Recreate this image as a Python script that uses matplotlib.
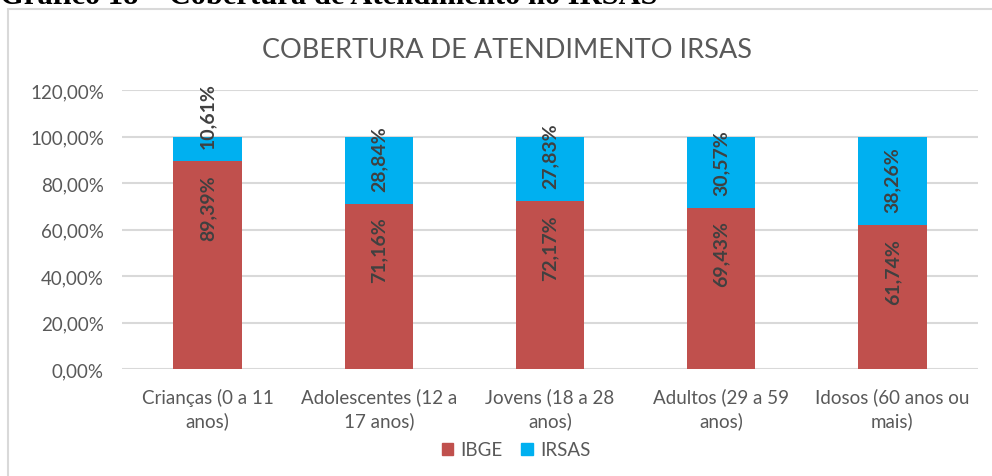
import matplotlib
matplotlib.use("Agg")
import matplotlib.pyplot as plt
from matplotlib.patches import Rectangle, Patch

plt.rcParams['font.family'] = ['Lato', 'DejaVu Sans']

categories = ["Crianças (0 a 11\nanos)", "Adolescentes (12 a\n17 anos)", "Jovens (18 a 28\nanos)",
              "Adultos (29 a 59\nanos)", "Idosos (60 anos ou\nmais)"]
ibge = [89.39, 71.16, 72.17, 69.43, 61.74]
irsas = [10.61, 28.84, 27.83, 30.57, 38.26]
yticks = [0, 20, 40, 60, 80, 100, 120]
ytick_labels = ["0,00%", "20,00%", "40,00%", "60,00%", "80,00%", "100,00%", "120,00%"]

W, H = 992, 477
fig = plt.figure(figsize=(W / 100, H / 100), dpi=100)
ax = fig.add_axes([122 / W, (H - 370) / H, (978 - 122) / W, (370 - 91) / H])

red = "#C0504D"
blue = "#00B0F0"
x = list(range(len(categories)))
ax.bar(x, ibge, width=0.4, color=red, zorder=3)
ax.bar(x, irsas, width=0.4, bottom=ibge, color=blue, zorder=3)

ax.set_xlim(-0.5, len(categories) - 0.5)
ax.set_ylim(0, 120)
ax.set_yticks(yticks)
ax.set_yticklabels(ytick_labels)
ax.set_xticks(x)
ax.set_xticklabels(categories, linespacing=1.38)
ax.tick_params(axis='both', length=0, labelsize=13.5, colors="#595959")
ax.tick_params(axis='y', pad=13)
ax.tick_params(axis='x', pad=13.5)
ax.grid(axis='y', color="#d9d9d9", linewidth=1.5, zorder=0)
for s in ax.spines.values():
    s.set_visible(False)

lab_col = "#404040"
for i in x:
    ax.annotate(f"{ibge[i]:.2f}%".replace('.', ','), (i, ibge[i]), xytext=(0, -13),
                textcoords='offset pixels', rotation=90, ha='center', va='top',
                fontsize=14, fontweight='bold', color=lab_col, zorder=5)
    ax.annotate(f"{irsas[i]:.2f}%".replace('.', ','), (i, ibge[i]), xytext=(0, 13),
                textcoords='offset pixels', rotation=90, ha='center', va='bottom',
                fontsize=14, fontweight='bold', color=lab_col, zorder=5)

fig.text(507 / W, 1 - 50 / H, "COBERTURA DE ATENDIMENTO IRSAS", ha='center', va='center',
         fontsize=19.5, color="#595959")

handles = [Patch(color=red, label="IBGE"), Patch(color=blue, label="IRSAS")]
fig.legend(handles=handles, loc='center', bbox_to_anchor=(516 / W, 1 - 451 / H), ncol=2,
           frameon=False, fontsize=13.5, labelcolor="#595959", handlelength=0.6,
           handleheight=0.6, handletextpad=0.4, columnspacing=1.0)

# chart frame
fig.patches.append(Rectangle((8 / W, -0.1), 1.2, (1 - 10 / H) + 0.1, transform=fig.transFigure,
                             fill=False, edgecolor="#d9d9d9", linewidth=1.5, zorder=0))

# cut-off caption at the very top
fig.text(0 / W, 1 - 4 / H, "Gráfico 18 – Cobertura de Atendimento no IRSAS", ha='left',
         va='baseline', fontsize=22, fontweight='bold', family='Liberation Serif', color='black')

fig.savefig("out.png", dpi=100)
